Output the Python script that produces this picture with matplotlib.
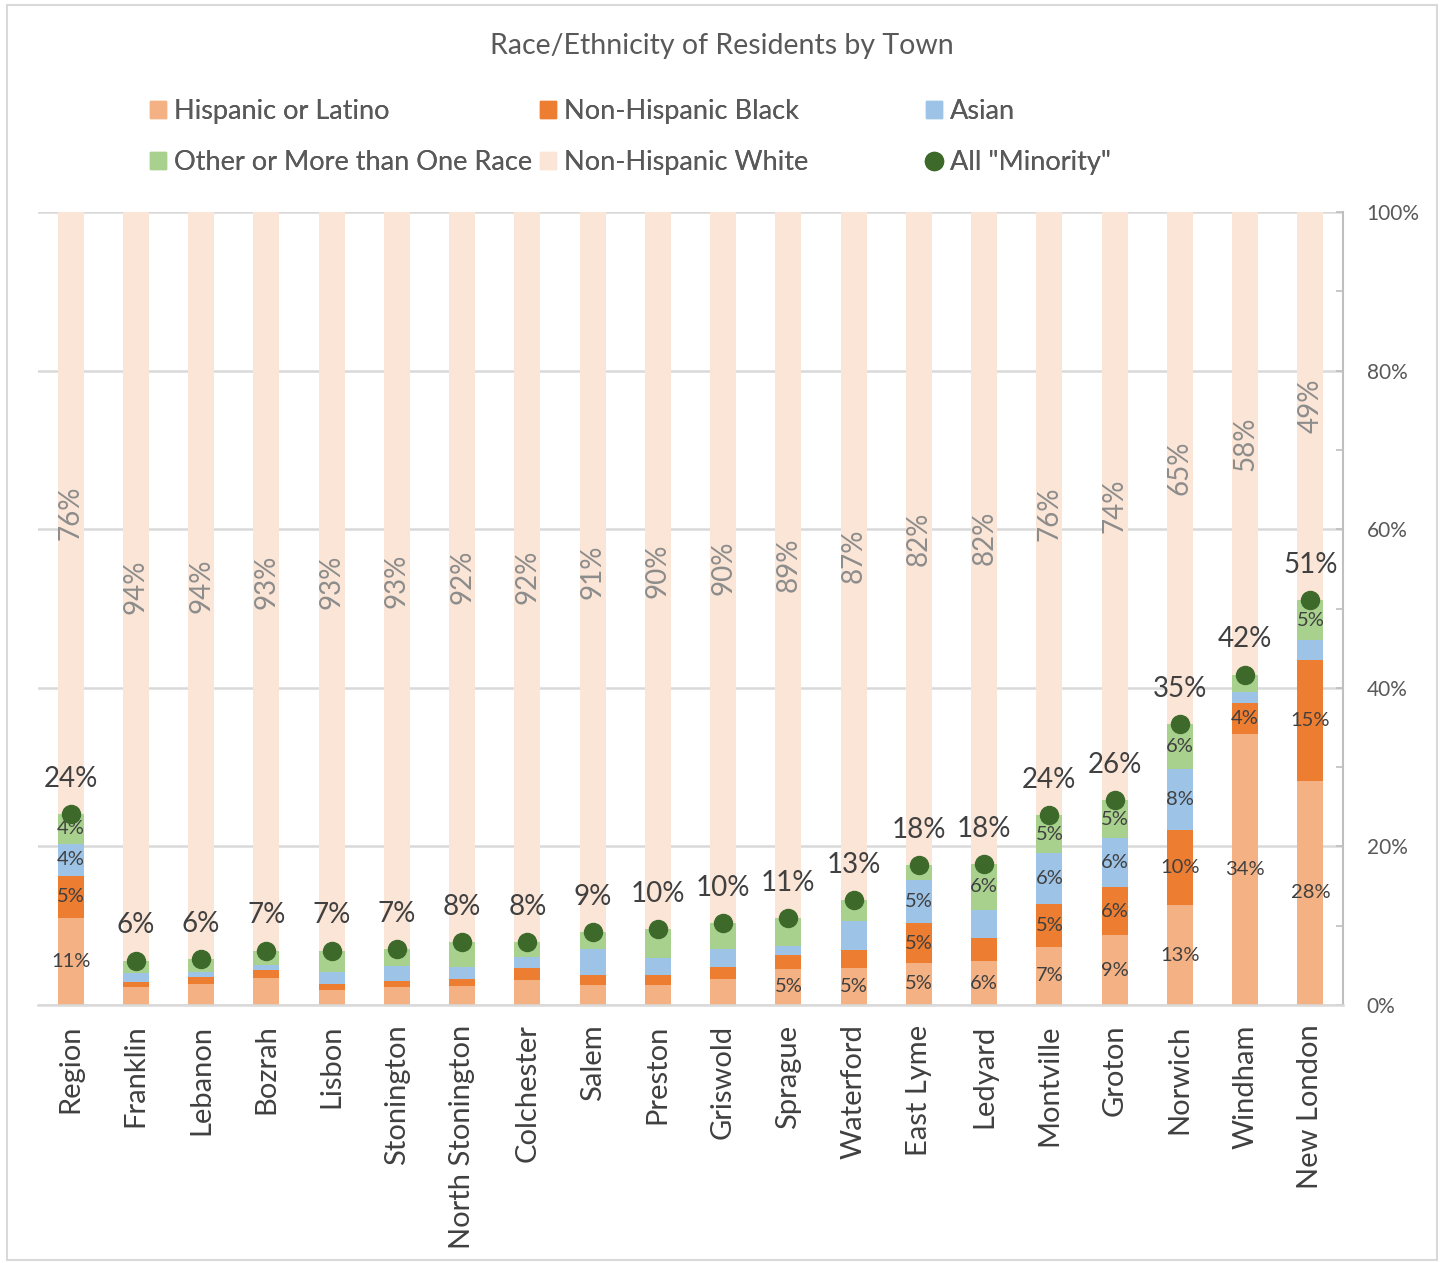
import matplotlib.pyplot as plt
import numpy as np
from matplotlib.patches import Patch, Rectangle
from matplotlib.lines import Line2D
from matplotlib.ticker import MultipleLocator, PercentFormatter

plt.rcParams["font.family"] = ["Lato", "DejaVu Sans"]

towns = ["Region", "Franklin", "Lebanon", "Bozrah", "Lisbon", "Stonington",
         "North Stonington", "Colchester", "Salem", "Preston", "Griswold",
         "Sprague", "Waterford", "East Lyme", "Ledyard", "Montville", "Groton",
         "Norwich", "Windham", "New London"]

hispanic = [11.0, 2.3, 2.7, 3.4, 1.9, 2.3, 2.35, 3.15, 2.5, 2.5, 3.25, 4.55,
            4.67, 5.3, 5.5, 7.35, 8.8, 12.6, 34.2, 28.3]
black = [5.3, 0.6, 0.8, 1.05, 0.75, 0.77, 0.97, 1.5, 1.3, 1.25, 1.55, 1.75,
         2.23, 5.0, 3.0, 5.4, 6.1, 9.5, 3.9, 15.2]
asian = [4.0, 1.1, 0.6, 0.55, 1.45, 1.9, 1.43, 1.35, 3.2, 2.2, 2.2, 1.2,
         3.7, 5.4, 3.5, 6.4, 6.15, 7.7, 1.4, 2.5]
other = [3.8, 1.6, 1.7, 1.85, 2.75, 2.1, 3.2, 1.9, 2.2, 3.65, 3.3, 3.5,
         2.6, 1.9, 5.8, 4.8, 4.8, 5.6, 2.15, 5.05]

minority = [h + b + a + o for h, b, a, o in zip(hispanic, black, asian, other)]
white = [100 - m for m in minority]

series = [("Hispanic or Latino", hispanic, "#F4B183"),
          ("Non-Hispanic Black", black, "#ED7D31"),
          ("Asian", asian, "#9DC3E6"),
          ("Other or More than One Race", other, "#A9D18E"),
          ("Non-Hispanic White", white, "#FBE5D6")]
dot_color = "#3D6A2A"
text_dark = "#404040"
text_gray = "#595959"

fig = plt.figure(figsize=(14.44, 12.63), dpi=100)
ax = fig.add_axes([38 / 1444, 1 - 1005 / 1263, (1343 - 38) / 1444, (1005 - 212) / 1263])

x = np.arange(len(towns))
bottom = np.zeros(len(towns))
for name, vals, color in series:
    vals = np.array(vals)
    ax.bar(x, vals, 0.4, bottom=bottom, color=color, label=name, zorder=2)
    for xi, b, v in zip(x, bottom, vals):
        if name == "Non-Hispanic White":
            ax.text(xi, b + v / 2, f"{v:.0f}%", rotation=90, ha="center",
                    va="center", fontsize=20, color="#8C8C8C", zorder=4)
        elif v >= 3.75:
            ax.text(xi, b + v / 2, f"{v:.0f}%", ha="center", va="center",
                    fontsize=14.5, color=text_dark, zorder=4)
    bottom += vals

ax.plot(x, minority, "o", color=dot_color, ms=13, zorder=5, linestyle="none")
for xi, m in zip(x, minority):
    ax.annotate(f"{m:.0f}%", (xi, m), xytext=(0, 16), textcoords="offset points",
                ha="center", va="bottom", fontsize=20, color=text_dark, zorder=6)

ax.set_xlim(-0.5, len(towns) - 0.5)
ax.set_ylim(0, 100)
ax.yaxis.tick_right()
ax.yaxis.set_major_locator(MultipleLocator(20))
ax.yaxis.set_minor_locator(MultipleLocator(10))
ax.yaxis.set_major_formatter(PercentFormatter(decimals=0))
ax.tick_params(axis="y", which="both", direction="in", length=5, width=1.2,
               color="#BFBFBF", labelsize=15, labelcolor=text_gray, pad=17)
ax.grid(axis="y", color="#D9D9D9", linewidth=1.8, zorder=0)
ax.set_axisbelow(True)
ax.set_xticks(x)
ax.set_xticklabels(towns, rotation=90, fontsize=21, color=text_dark)
ax.tick_params(axis="x", length=0, pad=14)
for side in ["left", "top"]:
    ax.spines[side].set_visible(False)
ax.spines["right"].set_color("#BFBFBF")
ax.spines["right"].set_linewidth(1.5)
ax.spines["bottom"].set_color("#D9D9D9")
ax.spines["bottom"].set_linewidth(1.8)

fig.text(0.5, 1 - 46 / 1263, "Race/Ethnicity of Residents by Town", ha="center",
         va="center", fontsize=20.5, color=text_gray)

# legend, three fixed-width columns like the original
colors = {name: color for name, _, color in series}
columns = [
    (150, [Patch(color=colors["Hispanic or Latino"]), Patch(color=colors["Other or More than One Race"])],
     ["Hispanic or Latino", "Other or More than One Race"]),
    (540, [Patch(color=colors["Non-Hispanic Black"]), Patch(color=colors["Non-Hispanic White"])],
     ["Non-Hispanic Black", "Non-Hispanic White"]),
    (926, [Patch(color=colors["Asian"]),
           Line2D([], [], marker="o", color=dot_color, linestyle="none", ms=13)],
     ["Asian", 'All "Minority"']),
]
for left, handles, labels in columns:
    leg = fig.legend(handles, labels, loc="upper left",
                     bbox_to_anchor=(left / 1444, 1 - 99 / 1263), frameon=False,
                     fontsize=19.5, handlelength=0.6, handleheight=0.6,
                     handletextpad=0.3, labelspacing=0.95, borderpad=0,
                     borderaxespad=0, labelcolor=text_gray)
    fig.add_artist(leg)

fig.add_artist(Rectangle((7 / 1444, 3 / 1263), 1430 / 1444, 1255 / 1263,
                         transform=fig.transFigure, fill=False,
                         edgecolor="#D9D9D9", linewidth=1.5))

fig.savefig("out.png", dpi=100)
